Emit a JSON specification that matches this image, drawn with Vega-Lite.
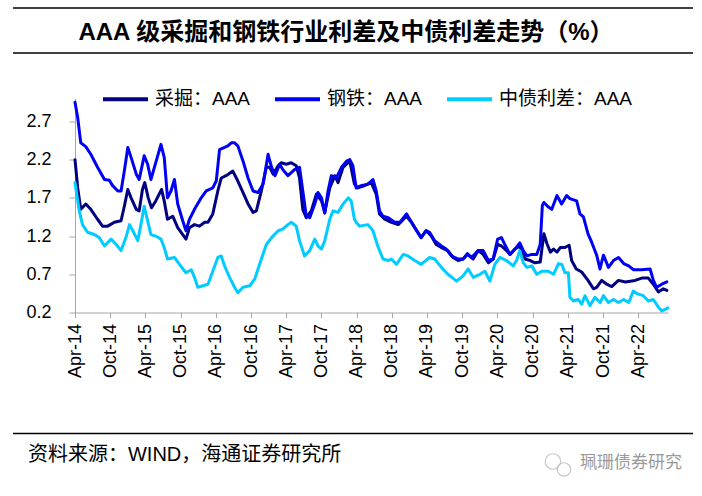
{
  "$schema": "https://vega.github.io/schema/vega-lite/v6.json",
  "padding": {"left": 12, "top": 7, "right": 0, "bottom": 0},
  "background": "white",
  "config": {
    "view": {"stroke": null},
    "font": "Liberation Sans, Noto Sans CJK SC"
  },
  "spacing": 20.5,
  "resolve": {"legend": {"color": "independent"}, "scale": {"color": "independent"}},
  "vconcat": [
    {
      "width": 593,
      "height": 45,
      "data": {"values": [{"t": "AAA 级采掘和钢铁行业利差及中债利差走势（%）"}]},
      "layer": [
        {
          "mark": {"type": "rule", "color": "#000000", "strokeWidth": 1.5},
          "encoding": {
            "x": {"datum": -0.1046, "type": "quantitative", "scale": {"domain": [0, 1]}, "axis": null},
            "x2": {"datum": 1.0422},
            "y": {"datum": 1, "type": "quantitative", "scale": {"domain": [0, 1]}, "axis": null}
          }
        },
        {
          "mark": {"type": "rule", "color": "#000000", "strokeWidth": 1.5},
          "encoding": {
            "x": {"datum": -0.1046, "type": "quantitative", "axis": null},
            "x2": {"datum": 1.0422},
            "y": {"datum": 0, "type": "quantitative", "axis": null}
          }
        },
        {
          "mark": {"type": "text", "fontSize": 24, "fontWeight": "bold", "font": "Liberation Sans, Noto Sans CJK SC", "baseline": "middle", "align": "center", "color": "#000000"},
          "encoding": {
            "x": {"datum": 0.457, "type": "quantitative", "axis": null},
            "y": {"datum": 0.44, "type": "quantitative", "axis": null},
            "text": {"field": "t"}
          }
        }
      ]
    },
    {
      "width": 593,
      "height": 214,
      "data": {
        "values": [
          {"d": "2014-04-01", "s": "采掘：AAA", "v": 2.20},
          {"d": "2014-04-15", "s": "采掘：AAA", "v": 1.83},
          {"d": "2014-05-01", "s": "采掘：AAA", "v": 1.55},
          {"d": "2014-05-27", "s": "采掘：AAA", "v": 1.62},
          {"d": "2014-06-22", "s": "采掘：AAA", "v": 1.55},
          {"d": "2014-07-27", "s": "采掘：AAA", "v": 1.42},
          {"d": "2014-08-22", "s": "采掘：AAA", "v": 1.33},
          {"d": "2014-09-18", "s": "采掘：AAA", "v": 1.33},
          {"d": "2014-10-22", "s": "采掘：AAA", "v": 1.38},
          {"d": "2014-11-26", "s": "采掘：AAA", "v": 1.40},
          {"d": "2014-12-13", "s": "采掘：AAA", "v": 1.59},
          {"d": "2014-12-31", "s": "采掘：AAA", "v": 1.81},
          {"d": "2015-01-17", "s": "采掘：AAA", "v": 1.70},
          {"d": "2015-02-13", "s": "采掘：AAA", "v": 1.55},
          {"d": "2015-02-28", "s": "采掘：AAA", "v": 1.53},
          {"d": "2015-03-17", "s": "采掘：AAA", "v": 1.81},
          {"d": "2015-03-29", "s": "采掘：AAA", "v": 1.90},
          {"d": "2015-04-16", "s": "采掘：AAA", "v": 1.70},
          {"d": "2015-05-03", "s": "采掘：AAA", "v": 1.57},
          {"d": "2015-05-25", "s": "采掘：AAA", "v": 1.66},
          {"d": "2015-06-24", "s": "采掘：AAA", "v": 1.81},
          {"d": "2015-07-08", "s": "采掘：AAA", "v": 1.66},
          {"d": "2015-07-25", "s": "采掘：AAA", "v": 1.42},
          {"d": "2015-08-21", "s": "采掘：AAA", "v": 1.46},
          {"d": "2015-09-16", "s": "采掘：AAA", "v": 1.31},
          {"d": "2015-10-12", "s": "采掘：AAA", "v": 1.22},
          {"d": "2015-10-29", "s": "采掘：AAA", "v": 1.16},
          {"d": "2015-11-16", "s": "采掘：AAA", "v": 1.31},
          {"d": "2015-12-12", "s": "采掘：AAA", "v": 1.35},
          {"d": "2016-01-07", "s": "采掘：AAA", "v": 1.33},
          {"d": "2016-02-03", "s": "采掘：AAA", "v": 1.38},
          {"d": "2016-02-20", "s": "采掘：AAA", "v": 1.38},
          {"d": "2016-03-16", "s": "采掘：AAA", "v": 1.49},
          {"d": "2016-04-11", "s": "采掘：AAA", "v": 1.79},
          {"d": "2016-04-29", "s": "采掘：AAA", "v": 1.96},
          {"d": "2016-05-24", "s": "采掘：AAA", "v": 1.99},
          {"d": "2016-06-28", "s": "采掘：AAA", "v": 2.05},
          {"d": "2016-07-24", "s": "采掘：AAA", "v": 1.92},
          {"d": "2016-08-20", "s": "采掘：AAA", "v": 1.77},
          {"d": "2016-09-15", "s": "采掘：AAA", "v": 1.62},
          {"d": "2016-10-11", "s": "采掘：AAA", "v": 1.51},
          {"d": "2016-10-28", "s": "采掘：AAA", "v": 1.53},
          {"d": "2016-11-23", "s": "采掘：AAA", "v": 1.79},
          {"d": "2016-12-19", "s": "采掘：AAA", "v": 2.10},
          {"d": "2017-01-06", "s": "采掘：AAA", "v": 2.10},
          {"d": "2017-01-23", "s": "采掘：AAA", "v": 2.01},
          {"d": "2017-02-18", "s": "采掘：AAA", "v": 2.12},
          {"d": "2017-03-06", "s": "采掘：AAA", "v": 2.16},
          {"d": "2017-04-01", "s": "采掘：AAA", "v": 2.14},
          {"d": "2017-04-27", "s": "采掘：AAA", "v": 2.16},
          {"d": "2017-05-23", "s": "采掘：AAA", "v": 2.12},
          {"d": "2017-06-09", "s": "采掘：AAA", "v": 1.96},
          {"d": "2017-06-26", "s": "采掘：AAA", "v": 1.55},
          {"d": "2017-07-14", "s": "采掘：AAA", "v": 1.44},
          {"d": "2017-08-09", "s": "采掘：AAA", "v": 1.53},
          {"d": "2017-09-05", "s": "采掘：AAA", "v": 1.75},
          {"d": "2017-10-01", "s": "采掘：AAA", "v": 1.66},
          {"d": "2017-10-18", "s": "采掘：AAA", "v": 1.51},
          {"d": "2017-11-13", "s": "采掘：AAA", "v": 1.83},
          {"d": "2017-12-09", "s": "采掘：AAA", "v": 1.99},
          {"d": "2017-12-26", "s": "采掘：AAA", "v": 1.90},
          {"d": "2018-01-21", "s": "采掘：AAA", "v": 2.10},
          {"d": "2018-02-08", "s": "采掘：AAA", "v": 2.14},
          {"d": "2018-02-25", "s": "采掘：AAA", "v": 2.18},
          {"d": "2018-03-21", "s": "采掘：AAA", "v": 1.88},
          {"d": "2018-04-08", "s": "采掘：AAA", "v": 1.83},
          {"d": "2018-05-12", "s": "采掘：AAA", "v": 1.86},
          {"d": "2018-06-16", "s": "采掘：AAA", "v": 1.90},
          {"d": "2018-07-12", "s": "采掘：AAA", "v": 1.75},
          {"d": "2018-07-29", "s": "采掘：AAA", "v": 1.49},
          {"d": "2018-08-25", "s": "采掘：AAA", "v": 1.42},
          {"d": "2018-09-29", "s": "采掘：AAA", "v": 1.38},
          {"d": "2018-11-03", "s": "采掘：AAA", "v": 1.35},
          {"d": "2018-12-16", "s": "采掘：AAA", "v": 1.46},
          {"d": "2019-01-11", "s": "采掘：AAA", "v": 1.38},
          {"d": "2019-02-07", "s": "采掘：AAA", "v": 1.27},
          {"d": "2019-03-02", "s": "采掘：AAA", "v": 1.18},
          {"d": "2019-03-28", "s": "采掘：AAA", "v": 1.27},
          {"d": "2019-04-24", "s": "采掘：AAA", "v": 1.20},
          {"d": "2019-05-19", "s": "采掘：AAA", "v": 1.09},
          {"d": "2019-06-15", "s": "采掘：AAA", "v": 1.05},
          {"d": "2019-07-19", "s": "采掘：AAA", "v": 1.01},
          {"d": "2019-08-15", "s": "采掘：AAA", "v": 0.92},
          {"d": "2019-09-10", "s": "采掘：AAA", "v": 0.88},
          {"d": "2019-10-06", "s": "采掘：AAA", "v": 0.90},
          {"d": "2019-10-28", "s": "采掘：AAA", "v": 0.96},
          {"d": "2019-11-27", "s": "采掘：AAA", "v": 0.90},
          {"d": "2019-12-23", "s": "采掘：AAA", "v": 1.01},
          {"d": "2020-01-18", "s": "采掘：AAA", "v": 0.96},
          {"d": "2020-02-14", "s": "采掘：AAA", "v": 0.85},
          {"d": "2020-03-10", "s": "采掘：AAA", "v": 0.90},
          {"d": "2020-04-02", "s": "采掘：AAA", "v": 1.09},
          {"d": "2020-04-22", "s": "采掘：AAA", "v": 1.07},
          {"d": "2020-05-18", "s": "采掘：AAA", "v": 1.01},
          {"d": "2020-06-05", "s": "采掘：AAA", "v": 0.96},
          {"d": "2020-07-01", "s": "采掘：AAA", "v": 1.03},
          {"d": "2020-07-26", "s": "采掘：AAA", "v": 1.07},
          {"d": "2020-08-22", "s": "采掘：AAA", "v": 0.90},
          {"d": "2020-09-18", "s": "采掘：AAA", "v": 0.88},
          {"d": "2020-10-13", "s": "采掘：AAA", "v": 0.85},
          {"d": "2020-11-09", "s": "采掘：AAA", "v": 0.86},
          {"d": "2020-11-28", "s": "采掘：AAA", "v": 1.23},
          {"d": "2020-12-14", "s": "采掘：AAA", "v": 1.10},
          {"d": "2021-01-01", "s": "采掘：AAA", "v": 0.99},
          {"d": "2021-01-17", "s": "采掘：AAA", "v": 1.03},
          {"d": "2021-02-04", "s": "采掘：AAA", "v": 0.99},
          {"d": "2021-02-21", "s": "采掘：AAA", "v": 1.05},
          {"d": "2021-03-17", "s": "采掘：AAA", "v": 1.05},
          {"d": "2021-04-08", "s": "采掘：AAA", "v": 1.08},
          {"d": "2021-04-21", "s": "采掘：AAA", "v": 0.88},
          {"d": "2021-05-15", "s": "采掘：AAA", "v": 0.77},
          {"d": "2021-06-12", "s": "采掘：AAA", "v": 0.73},
          {"d": "2021-07-15", "s": "采掘：AAA", "v": 0.62},
          {"d": "2021-08-12", "s": "采掘：AAA", "v": 0.51},
          {"d": "2021-08-29", "s": "采掘：AAA", "v": 0.53},
          {"d": "2021-09-24", "s": "采掘：AAA", "v": 0.62},
          {"d": "2021-10-20", "s": "采掘：AAA", "v": 0.57},
          {"d": "2021-11-15", "s": "采掘：AAA", "v": 0.54},
          {"d": "2021-12-20", "s": "采掘：AAA", "v": 0.62},
          {"d": "2022-01-25", "s": "采掘：AAA", "v": 0.60},
          {"d": "2022-03-16", "s": "采掘：AAA", "v": 0.62},
          {"d": "2022-04-20", "s": "采掘：AAA", "v": 0.65},
          {"d": "2022-05-24", "s": "采掘：AAA", "v": 0.65},
          {"d": "2022-06-19", "s": "采掘：AAA", "v": 0.57},
          {"d": "2022-07-15", "s": "采掘：AAA", "v": 0.47},
          {"d": "2022-08-10", "s": "采掘：AAA", "v": 0.51},
          {"d": "2022-08-28", "s": "采掘：AAA", "v": 0.49},

          {"d": "2014-04-01", "s": "钢铁：AAA", "v": 2.95},
          {"d": "2014-04-15", "s": "钢铁：AAA", "v": 2.75},
          {"d": "2014-05-01", "s": "钢铁：AAA", "v": 2.42},
          {"d": "2014-05-27", "s": "钢铁：AAA", "v": 2.37},
          {"d": "2014-06-22", "s": "钢铁：AAA", "v": 2.27},
          {"d": "2014-07-27", "s": "钢铁：AAA", "v": 2.10},
          {"d": "2014-09-01", "s": "钢铁：AAA", "v": 1.94},
          {"d": "2014-09-26", "s": "钢铁：AAA", "v": 1.93},
          {"d": "2014-10-13", "s": "钢铁：AAA", "v": 1.86},
          {"d": "2014-11-09", "s": "钢铁：AAA", "v": 1.79},
          {"d": "2014-11-26", "s": "钢铁：AAA", "v": 1.79},
          {"d": "2014-12-13", "s": "钢铁：AAA", "v": 2.05},
          {"d": "2014-12-31", "s": "钢铁：AAA", "v": 2.36},
          {"d": "2015-01-17", "s": "钢铁：AAA", "v": 2.23},
          {"d": "2015-02-13", "s": "钢铁：AAA", "v": 2.01},
          {"d": "2015-02-28", "s": "钢铁：AAA", "v": 1.94},
          {"d": "2015-03-26", "s": "钢铁：AAA", "v": 2.25},
          {"d": "2015-04-13", "s": "钢铁：AAA", "v": 2.14},
          {"d": "2015-04-30", "s": "钢铁：AAA", "v": 1.94},
          {"d": "2015-05-25", "s": "钢铁：AAA", "v": 2.16},
          {"d": "2015-06-21", "s": "钢铁：AAA", "v": 2.40},
          {"d": "2015-07-08", "s": "钢铁：AAA", "v": 2.23},
          {"d": "2015-07-25", "s": "钢铁：AAA", "v": 1.70},
          {"d": "2015-08-12", "s": "钢铁：AAA", "v": 1.79},
          {"d": "2015-08-30", "s": "钢铁：AAA", "v": 1.94},
          {"d": "2015-09-16", "s": "钢铁：AAA", "v": 1.62},
          {"d": "2015-10-12", "s": "钢铁：AAA", "v": 1.40},
          {"d": "2015-10-29", "s": "钢铁：AAA", "v": 1.27},
          {"d": "2015-11-16", "s": "钢铁：AAA", "v": 1.42},
          {"d": "2015-12-12", "s": "钢铁：AAA", "v": 1.55},
          {"d": "2016-01-16", "s": "钢铁：AAA", "v": 1.70},
          {"d": "2016-02-11", "s": "钢铁：AAA", "v": 1.79},
          {"d": "2016-03-16", "s": "钢铁：AAA", "v": 1.83},
          {"d": "2016-04-03", "s": "钢铁：AAA", "v": 1.92},
          {"d": "2016-04-20", "s": "钢铁：AAA", "v": 2.33},
          {"d": "2016-05-16", "s": "钢铁：AAA", "v": 2.36},
          {"d": "2016-06-02", "s": "钢铁：AAA", "v": 2.38},
          {"d": "2016-06-20", "s": "钢铁：AAA", "v": 2.42},
          {"d": "2016-07-07", "s": "钢铁：AAA", "v": 2.42},
          {"d": "2016-07-24", "s": "钢铁：AAA", "v": 2.38},
          {"d": "2016-08-20", "s": "钢铁：AAA", "v": 2.18},
          {"d": "2016-09-15", "s": "钢铁：AAA", "v": 1.96},
          {"d": "2016-10-11", "s": "钢铁：AAA", "v": 1.79},
          {"d": "2016-11-06", "s": "钢铁：AAA", "v": 1.77},
          {"d": "2016-12-02", "s": "钢铁：AAA", "v": 1.88},
          {"d": "2016-12-28", "s": "钢铁：AAA", "v": 2.27},
          {"d": "2017-01-15", "s": "钢铁：AAA", "v": 2.10},
          {"d": "2017-02-02", "s": "钢铁：AAA", "v": 1.99},
          {"d": "2017-02-26", "s": "钢铁：AAA", "v": 2.14},
          {"d": "2017-03-14", "s": "钢铁：AAA", "v": 2.07},
          {"d": "2017-04-10", "s": "钢铁：AAA", "v": 1.99},
          {"d": "2017-05-14", "s": "钢铁：AAA", "v": 2.07},
          {"d": "2017-06-09", "s": "钢铁：AAA", "v": 2.10},
          {"d": "2017-06-26", "s": "钢铁：AAA", "v": 1.79},
          {"d": "2017-07-14", "s": "钢铁：AAA", "v": 1.46},
          {"d": "2017-08-01", "s": "钢铁：AAA", "v": 1.44},
          {"d": "2017-08-27", "s": "钢铁：AAA", "v": 1.62},
          {"d": "2017-09-13", "s": "钢铁：AAA", "v": 1.77},
          {"d": "2017-10-01", "s": "钢铁：AAA", "v": 1.70},
          {"d": "2017-10-18", "s": "钢铁：AAA", "v": 1.50},
          {"d": "2017-11-04", "s": "钢铁：AAA", "v": 1.79},
          {"d": "2017-11-21", "s": "钢铁：AAA", "v": 1.99},
          {"d": "2017-12-17", "s": "钢铁：AAA", "v": 1.96},
          {"d": "2018-01-13", "s": "钢铁：AAA", "v": 2.10},
          {"d": "2018-02-08", "s": "钢铁：AAA", "v": 2.18},
          {"d": "2018-02-25", "s": "钢铁：AAA", "v": 2.20},
          {"d": "2018-03-13", "s": "钢铁：AAA", "v": 2.12},
          {"d": "2018-03-30", "s": "钢铁：AAA", "v": 1.83},
          {"d": "2018-04-25", "s": "钢铁：AAA", "v": 1.86},
          {"d": "2018-05-30", "s": "钢铁：AAA", "v": 1.88},
          {"d": "2018-06-25", "s": "钢铁：AAA", "v": 1.94},
          {"d": "2018-07-12", "s": "钢铁：AAA", "v": 1.79},
          {"d": "2018-07-29", "s": "钢铁：AAA", "v": 1.53},
          {"d": "2018-08-16", "s": "钢铁：AAA", "v": 1.46},
          {"d": "2018-09-12", "s": "钢铁：AAA", "v": 1.44},
          {"d": "2018-10-16", "s": "钢铁：AAA", "v": 1.38},
          {"d": "2018-11-11", "s": "钢铁：AAA", "v": 1.38},
          {"d": "2018-12-16", "s": "钢铁：AAA", "v": 1.49},
          {"d": "2019-01-02", "s": "钢铁：AAA", "v": 1.42},
          {"d": "2019-01-28", "s": "钢铁：AAA", "v": 1.31},
          {"d": "2019-03-02", "s": "钢铁：AAA", "v": 1.18},
          {"d": "2019-03-28", "s": "钢铁：AAA", "v": 1.27},
          {"d": "2019-04-15", "s": "钢铁：AAA", "v": 1.25},
          {"d": "2019-05-11", "s": "钢铁：AAA", "v": 1.14},
          {"d": "2019-06-15", "s": "钢铁：AAA", "v": 1.07},
          {"d": "2019-07-10", "s": "钢铁：AAA", "v": 1.03},
          {"d": "2019-08-06", "s": "钢铁：AAA", "v": 0.94},
          {"d": "2019-09-10", "s": "钢铁：AAA", "v": 0.90},
          {"d": "2019-10-06", "s": "钢铁：AAA", "v": 0.90},
          {"d": "2019-10-28", "s": "钢铁：AAA", "v": 0.97},
          {"d": "2019-11-19", "s": "钢铁：AAA", "v": 0.92},
          {"d": "2019-12-23", "s": "钢铁：AAA", "v": 1.01},
          {"d": "2020-01-18", "s": "钢铁：AAA", "v": 1.01},
          {"d": "2020-02-14", "s": "钢铁：AAA", "v": 0.88},
          {"d": "2020-03-10", "s": "钢铁：AAA", "v": 0.90},
          {"d": "2020-04-02", "s": "钢铁：AAA", "v": 1.16},
          {"d": "2020-04-22", "s": "钢铁：AAA", "v": 1.18},
          {"d": "2020-05-09", "s": "钢铁：AAA", "v": 1.09},
          {"d": "2020-06-05", "s": "钢铁：AAA", "v": 0.96},
          {"d": "2020-07-01", "s": "钢铁：AAA", "v": 1.03},
          {"d": "2020-07-26", "s": "钢铁：AAA", "v": 1.11},
          {"d": "2020-08-13", "s": "钢铁：AAA", "v": 1.01},
          {"d": "2020-09-01", "s": "钢铁：AAA", "v": 0.94},
          {"d": "2020-09-26", "s": "钢铁：AAA", "v": 0.96},
          {"d": "2020-10-22", "s": "钢铁：AAA", "v": 0.96},
          {"d": "2020-11-09", "s": "钢铁：AAA", "v": 1.09},
          {"d": "2020-11-20", "s": "钢铁：AAA", "v": 1.60},
          {"d": "2020-11-28", "s": "钢铁：AAA", "v": 1.64},
          {"d": "2020-12-21", "s": "钢铁：AAA", "v": 1.58},
          {"d": "2021-01-08", "s": "钢铁：AAA", "v": 1.55},
          {"d": "2021-02-04", "s": "钢铁：AAA", "v": 1.73},
          {"d": "2021-02-28", "s": "钢铁：AAA", "v": 1.62},
          {"d": "2021-03-26", "s": "钢铁：AAA", "v": 1.73},
          {"d": "2021-04-12", "s": "钢铁：AAA", "v": 1.69},
          {"d": "2021-05-17", "s": "钢铁：AAA", "v": 1.66},
          {"d": "2021-06-03", "s": "钢铁：AAA", "v": 1.49},
          {"d": "2021-06-21", "s": "钢铁：AAA", "v": 1.45},
          {"d": "2021-07-15", "s": "钢铁：AAA", "v": 1.23},
          {"d": "2021-08-03", "s": "钢铁：AAA", "v": 1.12},
          {"d": "2021-08-29", "s": "钢铁：AAA", "v": 0.95},
          {"d": "2021-09-15", "s": "钢铁：AAA", "v": 0.77},
          {"d": "2021-10-03", "s": "钢铁：AAA", "v": 0.95},
          {"d": "2021-10-29", "s": "钢铁：AAA", "v": 0.79},
          {"d": "2021-11-24", "s": "钢铁：AAA", "v": 0.88},
          {"d": "2021-12-20", "s": "钢铁：AAA", "v": 0.92},
          {"d": "2022-01-16", "s": "钢铁：AAA", "v": 0.84},
          {"d": "2022-02-11", "s": "钢铁：AAA", "v": 0.81},
          {"d": "2022-03-07", "s": "钢铁：AAA", "v": 0.76},
          {"d": "2022-04-20", "s": "钢铁：AAA", "v": 0.76},
          {"d": "2022-06-02", "s": "钢铁：AAA", "v": 0.77},
          {"d": "2022-06-19", "s": "钢铁：AAA", "v": 0.62},
          {"d": "2022-07-06", "s": "钢铁：AAA", "v": 0.53},
          {"d": "2022-08-02", "s": "钢铁：AAA", "v": 0.57},
          {"d": "2022-08-28", "s": "钢铁：AAA", "v": 0.60},

          {"d": "2014-04-01", "s": "中债利差：AAA", "v": 1.90},
          {"d": "2014-04-23", "s": "中债利差：AAA", "v": 1.53},
          {"d": "2014-05-10", "s": "中债利差：AAA", "v": 1.35},
          {"d": "2014-06-05", "s": "中债利差：AAA", "v": 1.25},
          {"d": "2014-07-10", "s": "中债利差：AAA", "v": 1.22},
          {"d": "2014-08-05", "s": "中债利差：AAA", "v": 1.18},
          {"d": "2014-09-01", "s": "中债利差：AAA", "v": 1.07},
          {"d": "2014-10-05", "s": "中债利差：AAA", "v": 1.16},
          {"d": "2014-11-01", "s": "中债利差：AAA", "v": 1.09},
          {"d": "2014-11-26", "s": "中债利差：AAA", "v": 1.01},
          {"d": "2014-12-21", "s": "中债利差：AAA", "v": 1.18},
          {"d": "2015-01-09", "s": "中债利差：AAA", "v": 1.35},
          {"d": "2015-01-26", "s": "中债利差：AAA", "v": 1.27},
          {"d": "2015-02-21", "s": "中债利差：AAA", "v": 1.14},
          {"d": "2015-03-09", "s": "中债利差：AAA", "v": 1.35},
          {"d": "2015-03-26", "s": "中债利差：AAA", "v": 1.59},
          {"d": "2015-04-13", "s": "中债利差：AAA", "v": 1.40},
          {"d": "2015-04-30", "s": "中债利差：AAA", "v": 1.22},
          {"d": "2015-05-25", "s": "中债利差：AAA", "v": 1.20},
          {"d": "2015-06-21", "s": "中债利差：AAA", "v": 1.16},
          {"d": "2015-07-08", "s": "中债利差：AAA", "v": 1.05},
          {"d": "2015-07-25", "s": "中债利差：AAA", "v": 0.90},
          {"d": "2015-08-30", "s": "中债利差：AAA", "v": 0.92},
          {"d": "2015-09-25", "s": "中债利差：AAA", "v": 0.83},
          {"d": "2015-10-29", "s": "中债利差：AAA", "v": 0.72},
          {"d": "2015-11-25", "s": "中债利差：AAA", "v": 0.76},
          {"d": "2015-12-12", "s": "中债利差：AAA", "v": 0.66},
          {"d": "2015-12-29", "s": "中债利差：AAA", "v": 0.53},
          {"d": "2016-01-25", "s": "中债利差：AAA", "v": 0.55},
          {"d": "2016-02-20", "s": "中债利差：AAA", "v": 0.57},
          {"d": "2016-03-16", "s": "中债利差：AAA", "v": 0.74},
          {"d": "2016-04-11", "s": "中债利差：AAA", "v": 0.92},
          {"d": "2016-04-29", "s": "中债利差：AAA", "v": 0.94},
          {"d": "2016-05-16", "s": "中债利差：AAA", "v": 0.81},
          {"d": "2016-06-11", "s": "中债利差：AAA", "v": 0.66},
          {"d": "2016-07-07", "s": "中债利差：AAA", "v": 0.53},
          {"d": "2016-07-24", "s": "中债利差：AAA", "v": 0.46},
          {"d": "2016-08-20", "s": "中债利差：AAA", "v": 0.53},
          {"d": "2016-09-24", "s": "中债利差：AAA", "v": 0.55},
          {"d": "2016-10-20", "s": "中债利差：AAA", "v": 0.64},
          {"d": "2016-11-23", "s": "中债利差：AAA", "v": 0.90},
          {"d": "2016-12-19", "s": "中债利差：AAA", "v": 1.09},
          {"d": "2017-01-15", "s": "中债利差：AAA", "v": 1.18},
          {"d": "2017-02-18", "s": "中债利差：AAA", "v": 1.27},
          {"d": "2017-03-14", "s": "中债利差：AAA", "v": 1.29},
          {"d": "2017-04-10", "s": "中债利差：AAA", "v": 1.35},
          {"d": "2017-04-27", "s": "中债利差：AAA", "v": 1.38},
          {"d": "2017-05-23", "s": "中债利差：AAA", "v": 1.33},
          {"d": "2017-06-09", "s": "中债利差：AAA", "v": 1.14},
          {"d": "2017-07-05", "s": "中债利差：AAA", "v": 0.94},
          {"d": "2017-08-01", "s": "中债利差：AAA", "v": 1.01},
          {"d": "2017-08-27", "s": "中债利差：AAA", "v": 1.16},
          {"d": "2017-09-13", "s": "中债利差：AAA", "v": 1.07},
          {"d": "2017-10-01", "s": "中债利差：AAA", "v": 1.03},
          {"d": "2017-10-18", "s": "中债利差：AAA", "v": 1.14},
          {"d": "2017-11-13", "s": "中债利差：AAA", "v": 1.42},
          {"d": "2017-11-30", "s": "中债利差：AAA", "v": 1.53},
          {"d": "2017-12-26", "s": "中债利差：AAA", "v": 1.51},
          {"d": "2018-01-21", "s": "中债利差：AAA", "v": 1.62},
          {"d": "2018-02-17", "s": "中债利差：AAA", "v": 1.70},
          {"d": "2018-03-04", "s": "中债利差：AAA", "v": 1.66},
          {"d": "2018-03-21", "s": "中债利差：AAA", "v": 1.42},
          {"d": "2018-03-30", "s": "中债利差：AAA", "v": 1.38},
          {"d": "2018-04-17", "s": "中债利差：AAA", "v": 1.33},
          {"d": "2018-05-30", "s": "中债利差：AAA", "v": 1.35},
          {"d": "2018-06-25", "s": "中债利差：AAA", "v": 1.27},
          {"d": "2018-07-20", "s": "中债利差：AAA", "v": 1.07},
          {"d": "2018-08-16", "s": "中债利差：AAA", "v": 0.90},
          {"d": "2018-09-12", "s": "中债利差：AAA", "v": 0.88},
          {"d": "2018-09-29", "s": "中债利差：AAA", "v": 0.90},
          {"d": "2018-10-25", "s": "中债利差：AAA", "v": 0.83},
          {"d": "2018-11-29", "s": "中债利差：AAA", "v": 0.96},
          {"d": "2018-12-24", "s": "中债利差：AAA", "v": 0.94},
          {"d": "2019-01-28", "s": "中债利差：AAA", "v": 0.88},
          {"d": "2019-03-02", "s": "中债利差：AAA", "v": 0.83},
          {"d": "2019-04-15", "s": "中债利差：AAA", "v": 0.92},
          {"d": "2019-05-11", "s": "中债利差：AAA", "v": 0.90},
          {"d": "2019-06-15", "s": "中债利差：AAA", "v": 0.79},
          {"d": "2019-07-19", "s": "中债利差：AAA", "v": 0.70},
          {"d": "2019-09-02", "s": "中债利差：AAA", "v": 0.61},
          {"d": "2019-10-06", "s": "中债利差：AAA", "v": 0.68},
          {"d": "2019-11-01", "s": "中债利差：AAA", "v": 0.77},
          {"d": "2019-11-27", "s": "中债利差：AAA", "v": 0.66},
          {"d": "2020-01-01", "s": "中债利差：AAA", "v": 0.70},
          {"d": "2020-01-27", "s": "中债利差：AAA", "v": 0.74},
          {"d": "2020-02-22", "s": "中债利差：AAA", "v": 0.61},
          {"d": "2020-03-18", "s": "中债利差：AAA", "v": 0.83},
          {"d": "2020-04-14", "s": "中债利差：AAA", "v": 0.92},
          {"d": "2020-05-18", "s": "中债利差：AAA", "v": 0.88},
          {"d": "2020-06-22", "s": "中债利差：AAA", "v": 0.81},
          {"d": "2020-07-09", "s": "中债利差：AAA", "v": 0.88},
          {"d": "2020-07-26", "s": "中债利差：AAA", "v": 1.01},
          {"d": "2020-08-13", "s": "中债利差：AAA", "v": 0.85},
          {"d": "2020-09-01", "s": "中债利差：AAA", "v": 0.79},
          {"d": "2020-09-26", "s": "中债利差：AAA", "v": 0.81},
          {"d": "2020-10-22", "s": "中债利差：AAA", "v": 0.70},
          {"d": "2020-11-17", "s": "中债利差：AAA", "v": 0.74},
          {"d": "2020-12-21", "s": "中债利差：AAA", "v": 0.74},
          {"d": "2021-01-17", "s": "中债利差：AAA", "v": 0.70},
          {"d": "2021-02-12", "s": "中债利差：AAA", "v": 0.84},
          {"d": "2021-03-01", "s": "中债利差：AAA", "v": 0.83},
          {"d": "2021-03-17", "s": "中债利差：AAA", "v": 0.72},
          {"d": "2021-04-04", "s": "中债利差：AAA", "v": 0.72},
          {"d": "2021-04-12", "s": "中债利差：AAA", "v": 0.40},
          {"d": "2021-04-30", "s": "中债利差：AAA", "v": 0.35},
          {"d": "2021-05-25", "s": "中债利差：AAA", "v": 0.37},
          {"d": "2021-06-12", "s": "中债利差：AAA", "v": 0.31},
          {"d": "2021-06-29", "s": "中债利差：AAA", "v": 0.42},
          {"d": "2021-07-25", "s": "中债利差：AAA", "v": 0.29},
          {"d": "2021-08-20", "s": "中债利差：AAA", "v": 0.40},
          {"d": "2021-09-16", "s": "中债利差：AAA", "v": 0.33},
          {"d": "2021-10-03", "s": "中债利差：AAA", "v": 0.42},
          {"d": "2021-10-29", "s": "中债利差：AAA", "v": 0.33},
          {"d": "2021-11-24", "s": "中债利差：AAA", "v": 0.37},
          {"d": "2021-12-20", "s": "中债利差：AAA", "v": 0.33},
          {"d": "2022-01-16", "s": "中债利差：AAA", "v": 0.37},
          {"d": "2022-02-11", "s": "中债利差：AAA", "v": 0.33},
          {"d": "2022-03-07", "s": "中债利差：AAA", "v": 0.48},
          {"d": "2022-04-02", "s": "中债利差：AAA", "v": 0.44},
          {"d": "2022-04-28", "s": "中债利差：AAA", "v": 0.42},
          {"d": "2022-05-24", "s": "中债利差：AAA", "v": 0.35},
          {"d": "2022-06-19", "s": "中债利差：AAA", "v": 0.37},
          {"d": "2022-07-15", "s": "中债利差：AAA", "v": 0.27},
          {"d": "2022-08-02", "s": "中债利差：AAA", "v": 0.22},
          {"d": "2022-08-19", "s": "中债利差：AAA", "v": 0.24},
          {"d": "2022-09-02", "s": "中债利差：AAA", "v": 0.26}
        ]
      },
      "mark": {"type": "line", "strokeWidth": 3, "strokeJoin": "round", "strokeCap": "round"},
      "encoding": {
        "x": {
          "field": "d",
          "type": "temporal",
          "scale": {
            "type": "utc",
            "domain": [
              {"year": 2014, "month": 4, "date": 1, "utc": true},
              {"year": 2022, "month": 9, "date": 3, "utc": true}
            ]
          },
          "axis": {
            "title": null,
            "grid": false,
            "format": "%b-%y",
            "labelAngle": -90,
            "labelFontSize": 18,
            "labelFont": "Liberation Sans",
            "labelColor": "#000000",
            "labelPadding": 6,
            "labelOverlap": false,
            "labelFlush": false,
            "tickSize": 5,
            "tickColor": "#a6a6a6",
            "domainColor": "#a6a6a6",
            "values": [
              {"year": 2014, "month": 4, "date": 1, "utc": true},
              {"year": 2014, "month": 10, "date": 1, "utc": true},
              {"year": 2015, "month": 4, "date": 1, "utc": true},
              {"year": 2015, "month": 10, "date": 1, "utc": true},
              {"year": 2016, "month": 4, "date": 1, "utc": true},
              {"year": 2016, "month": 10, "date": 1, "utc": true},
              {"year": 2017, "month": 4, "date": 1, "utc": true},
              {"year": 2017, "month": 10, "date": 1, "utc": true},
              {"year": 2018, "month": 4, "date": 1, "utc": true},
              {"year": 2018, "month": 10, "date": 1, "utc": true},
              {"year": 2019, "month": 4, "date": 1, "utc": true},
              {"year": 2019, "month": 10, "date": 1, "utc": true},
              {"year": 2020, "month": 4, "date": 1, "utc": true},
              {"year": 2020, "month": 10, "date": 1, "utc": true},
              {"year": 2021, "month": 4, "date": 1, "utc": true},
              {"year": 2021, "month": 10, "date": 1, "utc": true},
              {"year": 2022, "month": 4, "date": 1, "utc": true}
            ]
          }
        },
        "y": {
          "field": "v",
          "type": "quantitative",
          "scale": {"domain": [0.2, 3.0], "zero": false, "nice": false},
          "axis": {
            "title": null,
            "grid": false,
            "values": [0.2, 0.7, 1.2, 1.7, 2.2, 2.7],
            "format": ".1f",
            "labelFontSize": 18,
            "labelFont": "Liberation Sans",
            "labelColor": "#000000",
            "labelPadding": 18,
            "tickSize": 6,
            "tickColor": "#a6a6a6",
            "domainColor": "#a6a6a6",
            "minExtent": 62
          }
        },
        "color": {
          "field": "s",
          "type": "nominal",
          "sort": null,
          "scale": {
            "domain": ["采掘：AAA", "钢铁：AAA", "中债利差：AAA"],
            "range": ["#000080", "#0000f5", "#00ccff"]
          },
          "legend": {
            "title": null,
            "orient": "none",
            "direction": "horizontal",
            "legendX": 26,
            "legendY": -24,
            "padding": 0,
            "symbolType": "stroke",
            "symbolSize": 2025,
            "symbolStrokeWidth": 4,
            "labelFontSize": 19,
            "labelFont": "Liberation Sans, Noto Sans CJK SC",
            "labelColor": "#000000",
            "labelOffset": 5,
            "columnPadding": 16
          }
        }
      }
    },
    {
      "width": 593,
      "height": 80,
      "data": {"values": [{"src": "资料来源：WIND，海通证券研究所", "wm": "珮珊债券研究"}]},
      "layer": [
        {
          "mark": {"type": "rule", "color": "#000000", "strokeWidth": 1.5},
          "encoding": {
            "x": {"datum": -0.1046, "type": "quantitative", "scale": {"domain": [0, 1]}, "axis": null},
            "x2": {"datum": 1.0422},
            "y": {"datum": 0.569, "type": "quantitative", "scale": {"domain": [0, 1]}, "axis": null}
          }
        },
        {
          "mark": {"type": "text", "fontSize": 20, "font": "Liberation Sans, Noto Sans CJK SC", "align": "left", "baseline": "middle", "color": "#000000"},
          "encoding": {
            "x": {"datum": -0.0793, "type": "quantitative", "axis": null},
            "y": {"datum": 0.306, "type": "quantitative", "axis": null},
            "text": {"field": "src"}
          }
        },
        {
          "mark": {"type": "point", "shape": "circle", "filled": false, "fill": "#ffffff", "stroke": "#b3b3b3", "strokeWidth": 1.2, "size": 240},
          "encoding": {
            "x": {"datum": 0.806, "type": "quantitative"},
            "y": {"datum": 0.219, "type": "quantitative"}
          }
        },
        {
          "mark": {"type": "point", "shape": "circle", "filled": false, "fill": "#ffffff", "stroke": "#b3b3b3", "strokeWidth": 1.2, "size": 180},
          "encoding": {
            "x": {"datum": 0.8246, "type": "quantitative"},
            "y": {"datum": 0.119, "type": "quantitative"}
          }
        },
        {
          "mark": {"type": "text", "fontSize": 17, "font": "Noto Sans CJK SC", "align": "right", "baseline": "middle", "color": "#9a9a9a"},
          "encoding": {
            "x": {"datum": 1.0236, "type": "quantitative"},
            "y": {"datum": 0.194, "type": "quantitative"},
            "text": {"field": "wm"}
          }
        }
      ]
    }
  ]
}
